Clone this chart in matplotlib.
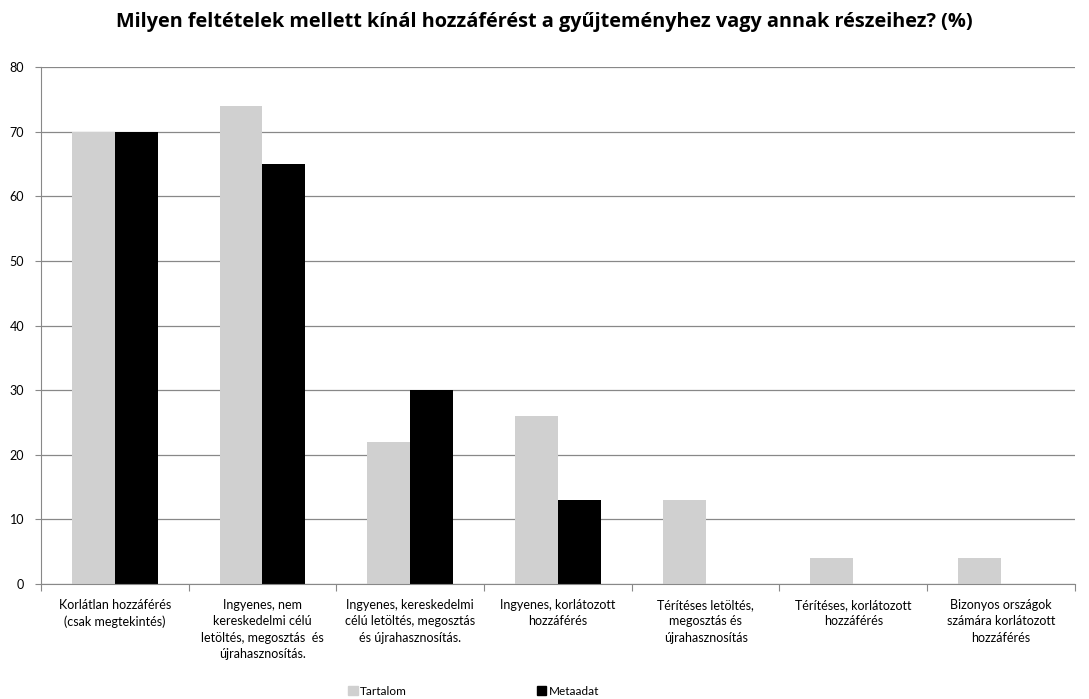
import numpy as np
import matplotlib.pyplot as plt
from matplotlib.patches import Patch

plt.rcParams['font.family'] = ['Lato', 'DejaVu Sans']

categories = [
    "Korlátlan hozzáférés\n(csak megtekintés)",
    "Ingyenes, nem\nkereskedelmi célú\nletöltés, megosztás  és\nújrahasznosítás.",
    "Ingyenes, kereskedelmi\ncélú letöltés, megosztás\nés újrahasznosítás.",
    "Ingyenes, korlátozott\nhozzáférés",
    "Térítéses letöltés,\nmegosztás és\nújrahasznosítás",
    "Térítéses, korlátozott\nhozzáférés",
    "Bizonyos országok\nszámára korlátozott\nhozzáférés",
]
tartalom = [70, 74, 22, 26, 13, 4, 4]
metaadat = [70, 65, 30, 13, 0, 0, 0]
series_names = ["Tartalom", "Metaadat"]
yticks = list(range(0, 81, 10))

fig = plt.figure(figsize=(10.89, 6.99), dpi=100)
ax = fig.add_axes([0.0376, 0.1645, 0.9494, 0.7395])

x = np.arange(len(categories))
w = 0.29
ax.bar(x - w/2, tartalom, w, color='#d0d0d0', zorder=2)
ax.bar(x + w/2, metaadat, w, color='black', zorder=2)

ax.set_xlim(-0.5, len(categories) - 0.5)
ax.set_ylim(0, 80)
ax.set_yticks(yticks)
ax.tick_params(axis='y', labelsize=9, length=4, color='#888888', pad=8)
ax.yaxis.grid(True, color='#888888', linewidth=0.9)
ax.set_axisbelow(True)

# category labels between boundary ticks
ax.set_xticks(np.arange(len(categories) + 1) - 0.5)
ax.set_xticklabels([])
ax.tick_params(axis='x', length=5, color='#888888')
for i, lab in enumerate(categories):
    ax.text(i, -2.3, lab, ha='center', va='top', fontsize=9, linespacing=1.45)

for s in ['top', 'right']:
    ax.spines[s].set_visible(False)
for s in ['left', 'bottom']:
    ax.spines[s].set_color('#888888')

fig.text(0.4995, 0.968, "Milyen feltételek mellett kínál hozzáférést a gyűjteményhez vagy annak részeihez? (%)",
         ha='center', va='center', fontsize=14.3, fontweight='bold',
         family=['Open Sans', 'DejaVu Sans'])

handles = [Patch(color='#d0d0d0'), Patch(color='black')]
fig.legend(handles, series_names, loc='lower center', bbox_to_anchor=(0.435, -0.012),
           ncol=2, frameon=False, fontsize=8.5, handlelength=0.8, handleheight=0.8,
           handletextpad=0.2, columnspacing=11)

fig.savefig("out.png", dpi=100)
